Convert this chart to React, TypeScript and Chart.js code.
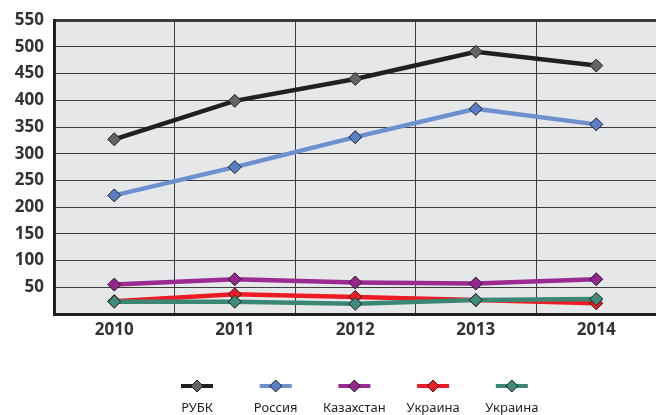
import React, { useEffect, useRef } from "react";
import { Chart, registerables } from "chart.js";

Chart.register(...registerables);

const years = ["2010", "2011", "2012", "2013", "2014"];
const rubkValues = [327, 399, 440, 491, 465];
const russiaValues = [222, 275, 331, 384, 355];
const kazakhstanValues = [55, 65, 59, 57, 65];
const ukraineRedValues = [24, 37, 32, 26, 20];
const ukraineGreenValues = [23, 23, 19, 26, 28];
const seriesLabels = ["РУБК", "Россия", "Казахстан", "Украина", "Украина"];
const lineColors = ["#231f20", "#6f90cf", "#9c2a92", "#ed1c24", "#3b8675"];
const markerColors = ["#636466", "#5b7fc4", "#93278f", "#ed1c24", "#3f8a78"];
const yMin = 0;
const yMax = 550;
const yStep = 50;

const TICK_FONT = { family: "'Open Sans', sans-serif", size: 17, weight: "bold" as const };

const plotBgPlugin = {
  id: "plotBg",
  beforeDraw(chart: any) {
    const { ctx, chartArea } = chart;
    ctx.save();
    ctx.fillStyle = "#e6e7e8";
    ctx.fillRect(chartArea.left, chartArea.top, chartArea.right - chartArea.left, chartArea.bottom - chartArea.top);
    ctx.restore();
  },
};

const customLegendPlugin = {
  id: "customLegend",
  afterDraw(chart: any) {
    const { ctx } = chart;
    const ds = chart.data.datasets;
    const startX = 197;
    const gap = 78.7;
    const symY = 386;
    const textY = 408;
    ctx.save();
    ds.forEach((d: any, i: number) => {
      const cx = startX + gap * i;
      ctx.strokeStyle = d.borderColor;
      ctx.lineWidth = 4;
      ctx.beginPath();
      ctx.moveTo(cx - 16, symY);
      ctx.lineTo(cx + 16, symY);
      ctx.stroke();
      ctx.beginPath();
      ctx.moveTo(cx - 6, symY);
      ctx.lineTo(cx, symY - 6);
      ctx.lineTo(cx + 6, symY);
      ctx.lineTo(cx, symY + 6);
      ctx.closePath();
      ctx.fillStyle = d.pointBackgroundColor;
      ctx.fill();
      ctx.lineWidth = 1;
      ctx.strokeStyle = "#231f20";
      ctx.stroke();
      ctx.fillStyle = "#231f20";
      ctx.font = "13px 'Noto Sans', sans-serif";
      ctx.textAlign = "center";
      ctx.textBaseline = "middle";
      ctx.fillText(d.label, cx, textY);
    });
    ctx.restore();
  },
};

export default function App() {
  const canvasRef = useRef<HTMLCanvasElement | null>(null);

  useEffect(() => {
    document.body.style.margin = "0";
    document.body.style.overflow = "hidden";
    const seriesValues = [rubkValues, russiaValues, kazakhstanValues, ukraineRedValues, ukraineGreenValues];
    const orders = [1, 2, 3, 5, 4];
    const chart = new Chart(canvasRef.current as HTMLCanvasElement, {
      type: "line",
      data: {
        labels: years,
        datasets: seriesValues.map((vals, i) => ({
          label: seriesLabels[i],
          data: vals,
          borderColor: lineColors[i],
          backgroundColor: lineColors[i],
          borderWidth: 4.5,
          tension: 0,
          pointStyle: "rectRot",
          pointRadius: 6.5,
          pointBackgroundColor: markerColors[i],
          pointBorderColor: "#231f20",
          pointBorderWidth: 1,
          order: orders[i],
        })),
      },
      options: {
        animation: false,
        responsive: false,
        maintainAspectRatio: false,
        layout: { padding: { top: 17, left: 0, right: 4, bottom: 0 } },
        plugins: {
          legend: { display: false },
          tooltip: { enabled: false },
        },
        scales: {
          x: {
            type: "category",
            offset: true,
            grid: { display: true, offset: true, color: "#3c3c3c", lineWidth: 1, drawTicks: false },
            border: { display: true, color: "#231f20", width: 3 },
            ticks: { color: "#333333", font: TICK_FONT, padding: 6, maxRotation: 0 },
            afterFit(scale: any) {
              scale.height = 415 - 314;
            },
          },
          y: {
            min: yMin,
            max: yMax,
            grid: {
              color: "#3c3c3c",
              lineWidth: (c: any) => (c.tick && c.tick.value === yMax ? 3 : 1),
              drawTicks: false,
            },
            border: { display: true, color: "#231f20", width: 3 },
            ticks: {
              stepSize: yStep,
              color: "#333333",
              font: TICK_FONT,
              padding: 10,
              callback: (v: any) => (v === 0 ? "" : String(v)),
            },
            afterFit(scale: any) {
              scale.width = 54;
            },
          },
        },
      },
      plugins: [plotBgPlugin, customLegendPlugin],
    });
    return () => chart.destroy();
  }, []);

  return (
    <div style={{ width: 656, height: 415, overflow: "hidden", position: "relative" }}>
      <canvas ref={canvasRef} width={664} height={415} style={{ display: "block", width: 664, height: 415 }} />
    </div>
  );
}
